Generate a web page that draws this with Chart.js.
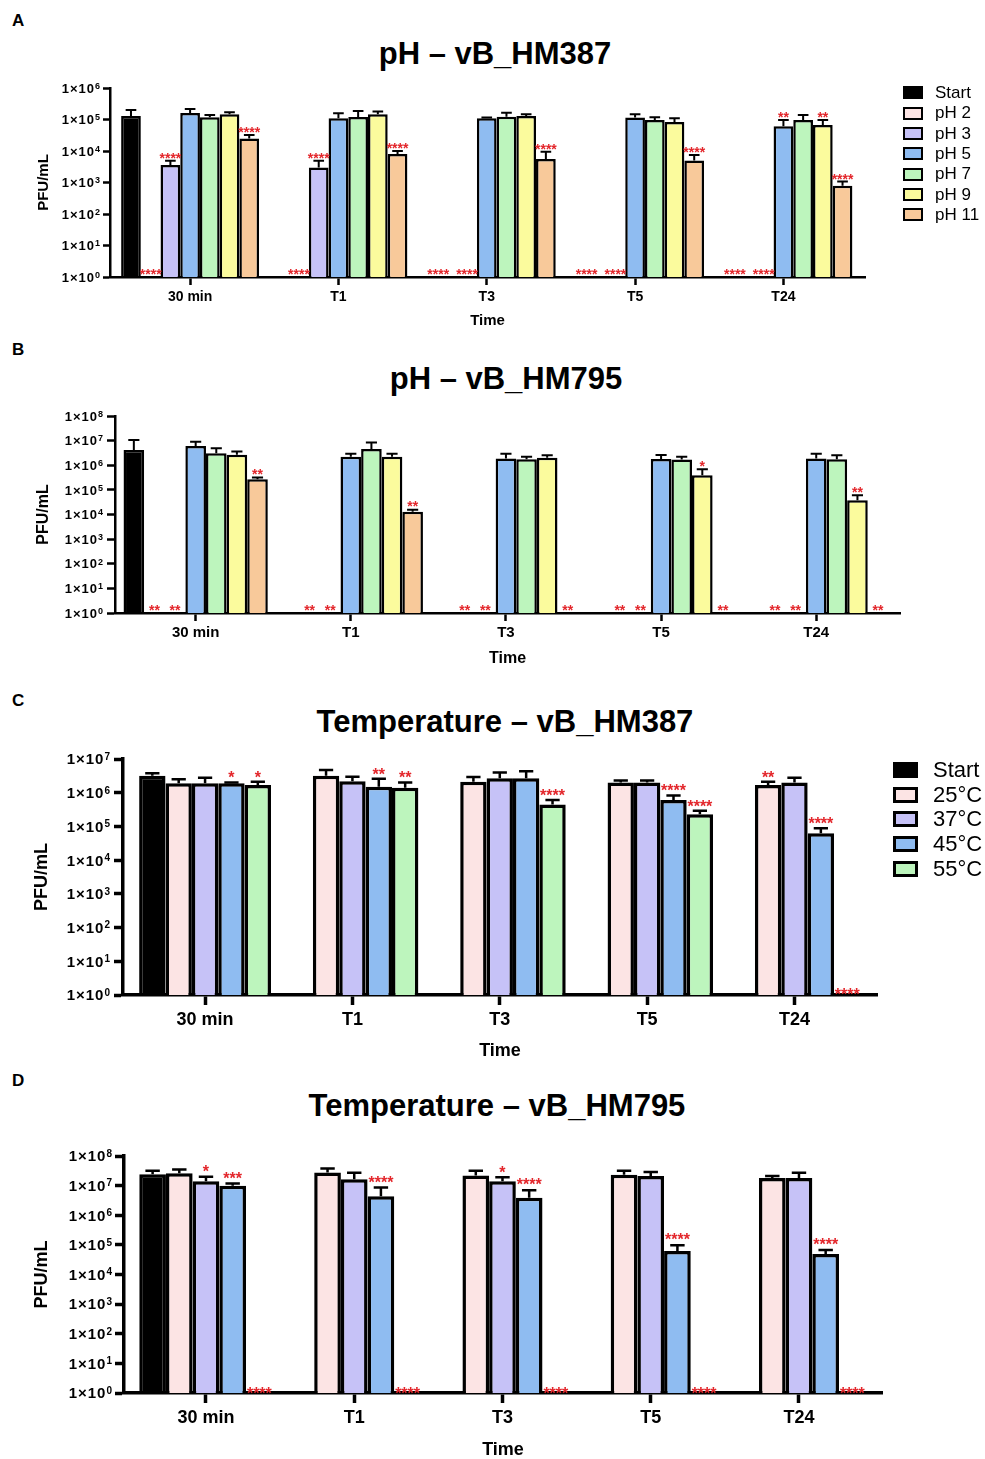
<!DOCTYPE html>
<html>
<head>
<meta charset="utf-8">
<title>Phage stability – pH and temperature</title>
<script src="https://cdn.jsdelivr.net/npm/chart.js@4.4.1/dist/chart.umd.min.js"></script>
<style>
  html, body { margin: 0; padding: 0; background: #fff; }
  body { position: relative; width: 985px; height: 1459px; overflow: hidden; font-family: 'Liberation Sans', Arial, sans-serif; color: #000; }
  canvas { position: absolute; left: 0; }
  .panel-letter { position: absolute; left: 12px; font-weight: bold; font-size: 17px; line-height: 17px; }
  .panel-title { position: absolute; width: 700px; text-align: center; font-weight: bold; font-size: 31px; line-height: 37px; white-space: nowrap; }
  .legend { position: absolute; }
  .legend-item { display: flex; align-items: center; white-space: nowrap; }
  .legend-box { box-sizing: border-box; display: inline-block; }
</style>
</head>
<body>
<div class="panel-letter" style="top:12px">A</div>
<div class="panel-letter" style="top:341px">B</div>
<div class="panel-letter" style="top:692px">C</div>
<div class="panel-letter" style="top:1072px">D</div>

<div class="panel-title" id="titleA"></div>
<div class="panel-title" id="titleB"></div>
<div class="panel-title" id="titleC"></div>
<div class="panel-title" id="titleD"></div>

<canvas id="chartA"></canvas>
<canvas id="chartB"></canvas>
<canvas id="chartC"></canvas>
<canvas id="chartD"></canvas>

<div class="legend" id="legendA"></div>
<div class="legend" id="legendC"></div>

<script>
/* Phage stability: pH and temperature, vB_HM387 and vB_HM795 */

const FONT = "'Liberation Sans', Arial, sans-serif";

// Categories and series
const timePoints = ['30 min', 'T1', 'T3', 'T5', 'T24'];
const phSeries = ['Start', 'pH 2', 'pH 3', 'pH 5', 'pH 7', 'pH 9', 'pH 11'];
const tempSeries = ['Start', '25°C', '37°C', '45°C', '55°C'];

// Y axis (PFU/mL, log scale)
const tickValues = [1, 1e1, 1e2, 1e3, 1e4, 1e5, 1e6, 1e7, 1e8];
const tickLabels = ['1×10⁰', '1×10¹', '1×10²', '1×10³', '1×10⁴', '1×10⁵', '1×10⁶', '1×10⁷', '1×10⁸'];

// Colours
const phColors = ['#000000', '#fce4e4', '#c6c2f7', '#8fbcf1', '#bdf5bd', '#fbfb9d', '#f8c99a'];
const tempColors = ['#000000', '#fce4e4', '#c6c2f7', '#8fbcf1', '#bdf5bd'];

// Panel A: pH – vB_HM387 (rows follow phSeries, columns follow timePoints)
const hm387PhMean = [
    [1.3e5, null, null, null, null],
    [null, null, null, null, null],
    [3.6e3, 3.0e3, null, null, null],
    [1.6e5, 1.1e5, 1.1e5, 1.15e5, 6.1e4],
    [1.17e5, 1.2e5, 1.23e5, 9.6e4, 9.6e4],
    [1.47e5, 1.47e5, 1.29e5, 8.3e4, 6.7e4],
    [2.5e4, 8.0e3, 5.6e3, 5.0e3, 7.9e2]
];
const hm387PhSd = [
    [7e4, null, null, null, null],
    [null, null, null, null, null],
    [1.3e3, 1.9e3, null, null, null],
    [5.5e4, 4.8e4, 5e3, 3.2e4, 3.5e4],
    [2.2e4, 6.6e4, 4.2e4, 2.1e4, 4.3e4],
    [2.3e4, 3.1e4, 1.8e4, 2.7e4, 2.9e4],
    [7e3, 2e3, 3.9e3, 2.4e3, 2.8e2]
];
const hm387PhStars = [
    ['', '', '', '', ''],
    ['****', '****', '****', '****', '****'],
    ['****', '****', '****', '****', '****'],
    ['', '', '', '', '**'],
    ['', '', '', '', ''],
    ['', '', '', '', '**'],
    ['****', '****', '****', '****', '****']
];

// Panel B: pH – vB_HM795
const hm795PhMean = [
    [4.2e6, null, null, null, null],
    [null, null, null, null, null],
    [null, null, null, null, null],
    [6.1e6, 2.2e6, 1.9e6, 1.8e6, 1.9e6],
    [3.1e6, 4.6e6, 1.75e6, 1.7e6, 1.75e6],
    [2.7e6, 2.2e6, 2.0e6, 3.9e5, 3.8e4],
    [2.7e5, 1.3e4, null, null, null]
];
const hm795PhSd = [
    [6.5e6, null, null, null, null],
    [null, null, null, null, null],
    [null, null, null, null, null],
    [3.0e6, 7e5, 1.0e6, 8e5, 1.0e6],
    [1.8e6, 3.7e6, 4.5e5, 5e5, 8e5],
    [9e5, 7e5, 5.5e5, 3e5, 2.3e4],
    [5e4, 2.5e3, null, null, null]
];
const hm795PhStars = [
    ['', '', '', '', ''],
    ['**', '**', '**', '**', '**'],
    ['**', '**', '**', '**', '**'],
    ['', '', '', '', ''],
    ['', '', '', '', ''],
    ['', '', '', '*', '**'],
    ['**', '**', '**', '**', '**']
];

// Panel C: Temperature – vB_HM387 (rows follow tempSeries)
const hm387TempMean = [
    [3.2e6, null, null, null, null],
    [1.9e6, 3.2e6, 2.1e6, 2.0e6, 1.7e6],
    [1.9e6, 2.2e6, 2.7e6, 2.0e6, 2.0e6],
    [1.9e6, 1.5e6, 2.7e6, 6.1e5, 6.3e4],
    [1.7e6, 1.4e6, 4.5e5, 2.3e5, null]
];
const hm387TempSd = [
    [6e5, null, null, null, null],
    [6e5, 1.5e6, 8e5, 3e5, 4e5],
    [9e5, 8e5, 1.3e6, 3e5, 8e5],
    [1e5, 1.1e6, 1.6e6, 2.1e5, 2.6e4],
    [4e5, 6e5, 1.6e5, 6e4, null]
];
const hm387TempStars = [
    ['', '', '', '', ''],
    ['', '', '', '', '**'],
    ['', '', '', '', ''],
    ['*', '**', '', '****', '****'],
    ['*', '**', '****', '****', '****']
];

// Panel D: Temperature – vB_HM795
const hm795TempMean = [
    [2.4e7, null, null, null, null],
    [2.6e7, 2.8e7, 2.2e7, 2.35e7, 1.82e7],
    [1.4e7, 1.65e7, 1.4e7, 2.1e7, 1.82e7],
    [1.0e7, 4.4e6, 3.9e6, 6.2e4, 4.9e4],
    [null, null, null, null, null]
];
const hm795TempSd = [
    [8e6, null, null, null, null],
    [9e6, 1.0e7, 1.0e7, 8.5e6, 2.8e6],
    [6e6, 1.05e7, 5e6, 8e6, 8.8e6],
    [1.8e6, 4.2e6, 3.1e6, 3.6e4, 1.8e4],
    [null, null, null, null, null]
];
const hm795TempStars = [
    ['', '', '', '', ''],
    ['', '', '', '', ''],
    ['*', '', '*', '', ''],
    ['***', '****', '****', '****', '****'],
    ['****', '****', '****', '****', '****']
];

Chart.defaults.font.family = FONT;
Chart.defaults.color = '#000';

const SUPERSCRIPTS = '⁰¹²³⁴⁵⁶⁷⁸⁹';

// Error bars (mean + SD, upper only) and significance stars
const errorBarsAndStars = {
    id: 'errorBarsAndStars',
    afterDatasetsDraw(chart, args, opts) {
        const ctx = chart.ctx;
        const yScale = chart.scales.y;
        const baseY = yScale.getPixelForValue(yScale.min);
        const labels = []; // per dataset, per time point

        ctx.save();
        ctx.font = `bold ${opts.starSize}px ${FONT}`;

        chart.data.datasets.forEach((ds, i) => {
            const meta = chart.getDatasetMeta(i);
            labels[i] = [];
            meta.data.forEach((bar, j) => {
                const mean = ds.data[j];
                let topY = baseY;

                if (mean !== null) {
                    topY = bar.y;
                    const sd = ds.sd[j];
                    if (sd) {
                        const capY = yScale.getPixelForValue(mean + sd);
                        const half = bar.width * 0.27;
                        ctx.strokeStyle = '#000';
                        ctx.lineWidth = opts.lineWidth;
                        ctx.beginPath();
                        ctx.moveTo(bar.x, topY);
                        ctx.lineTo(bar.x, capY);
                        ctx.moveTo(bar.x - half, capY);
                        ctx.lineTo(bar.x + half, capY);
                        ctx.stroke();
                        topY = capY;
                    }
                }

                const star = ds.stars[j];
                if (!star) return;
                labels[i][j] = {
                    text: star,
                    x: bar.x,
                    onBase: mean === null,
                    y: mean === null ? baseY - opts.baseGap : topY - opts.capGap,
                    w: ctx.measureText(star).width
                };
            });
        });

        // push neighbouring baseline labels apart so they do not run together
        timePoints.forEach((t, j) => {
            for (let i = labels.length - 2; i >= 0; i--) {
                const a = labels[i][j];
                const b = labels[i + 1][j];
                if (!a || !b || !a.onBase || !b.onBase) continue;
                const limit = b.x - b.w / 2 - opts.starGap;
                if (a.x + a.w / 2 > limit) a.x = limit - a.w / 2;
            }
        });

        ctx.fillStyle = '#e3262b';
        ctx.textAlign = 'center';
        ctx.textBaseline = 'alphabetic';
        labels.forEach(row => row.forEach(lb => {
            if (!lb) return;
            const m = ctx.measureText(lb.text);
            const glyphMid = (m.actualBoundingBoxAscent - m.actualBoundingBoxDescent) / 2;
            ctx.fillText(lb.text, lb.x, lb.y + glyphMid);
        }));
        ctx.restore();
    }
};

// Y tick labels as 1×10 with a raised, smaller exponent
const superscriptTicks = {
    id: 'superscriptTicks',
    afterDraw(chart, args, opts) {
        const ctx = chart.ctx;
        const s = chart.scales.y;
        const right = s.right - opts.tickLength - opts.padding;
        const cap = 0.716;

        ctx.save();
        ctx.fillStyle = '#000';
        ctx.textAlign = 'left';
        ctx.textBaseline = 'alphabetic';
        s.ticks.forEach((t, i) => {
            const label = tickLabels[i];
            let k = label.length;
            while (k > 0 && SUPERSCRIPTS.includes(label[k - 1])) k--;
            const base = label.slice(0, k);
            const exp = [...label.slice(k)].map(c => SUPERSCRIPTS.indexOf(c)).join('');

            ctx.font = `bold ${opts.supSize}px ${FONT}`;
            ctx.letterSpacing = '0px';
            const ew = ctx.measureText(exp).width;
            ctx.font = `bold ${opts.size}px ${FONT}`;
            ctx.letterSpacing = opts.spacing + 'px';
            const bw = ctx.measureText(base).width;

            const y = s.getPixelForValue(t.value);
            const baseLine = y + cap * opts.size / 2;
            ctx.fillText(base, right - ew - bw, baseLine);
            ctx.font = `bold ${opts.supSize}px ${FONT}`;
            ctx.letterSpacing = '0px';
            ctx.fillText(exp, right - ew, baseLine - cap * opts.size + cap * opts.supSize - 1);
        });
        ctx.restore();
    }
};

function makePanel(cfg) {
    const g = cfg.geo;
    const f = cfg.fonts;
    const canvas = document.getElementById(cfg.canvasId);
    canvas.width = 985;
    canvas.height = g.height;
    canvas.style.top = g.top + 'px';

    const title = document.getElementById(cfg.titleId);
    title.textContent = cfg.title;
    title.style.left = (g.titleX - 350) + 'px';
    title.style.top = (g.titleY - 18.5) + 'px';

    const axisLh = f.axisTitle * 1.2;
    const xTickLh = f.xTick * 1.2;
    const yVals = tickValues.filter(v => v <= cfg.yMax);

    return new Chart(canvas, {
        type: 'bar',
        data: {
            labels: timePoints.map((t, i) => i),
            datasets: cfg.series.map((name, k) => ({
                label: name,
                data: cfg.mean[k],
                sd: cfg.sd[k],
                stars: cfg.stars[k],
                backgroundColor: cfg.colors[k],
                borderColor: '#000',
                borderWidth: cfg.barBorder,
                categoryPercentage: cfg.categoryPercentage,
                barPercentage: 1
            }))
        },
        options: {
            responsive: false,
            animation: false,
            devicePixelRatio: 1,
            layout: {
                padding: { left: 0, top: g.area.t - g.top, right: 985 - g.area.r, bottom: 0 }
            },
            plugins: {
                legend: { display: false },
                tooltip: { enabled: false },
                errorBarsAndStars: {
                    lineWidth: cfg.errWidth,
                    starSize: f.star,
                    capGap: cfg.capGap,
                    baseGap: cfg.baseGap,
                    starGap: cfg.starGap
                },
                superscriptTicks: {
                    size: f.yTick,
                    supSize: f.yExp,
                    spacing: 1,
                    tickLength: g.yTickLen,
                    padding: g.yTickPad
                }
            },
            scales: {
                x: {
                    type: 'linear',
                    min: g.xMin,
                    max: g.xMax,
                    offset: false,
                    afterBuildTicks: (s) => { s.ticks = timePoints.map((t, i) => ({ value: i })); },
                    afterFit: (s) => { s.height = g.top + g.height - g.area.b; },
                    ticks: {
                        callback: (v, i) => timePoints[i],
                        font: { size: f.xTick, weight: 'bold' },
                        padding: g.xLabelY - g.area.b - g.xTickLen - xTickLh / 2,
                        maxRotation: 0,
                        autoSkip: false
                    },
                    grid: {
                        display: true, offset: false, drawOnChartArea: false, drawTicks: true,
                        tickLength: g.xTickLen, tickWidth: cfg.axisWidth, tickColor: '#000'
                    },
                    border: { display: true, color: '#000', width: cfg.axisWidth },
                    title: {
                        display: true,
                        text: 'Time',
                        font: { size: f.axisTitle, weight: 'bold', lineHeight: 1.2 },
                        padding: { top: 0, bottom: g.top + g.height - g.timeY - axisLh / 2 }
                    }
                },
                y: {
                    type: 'logarithmic',
                    min: 1,
                    max: cfg.yMax,
                    afterBuildTicks: (s) => { s.ticks = yVals.map(v => ({ value: v })); },
                    afterFit: (s) => { s.width = g.area.l; },
                    ticks: {
                        display: false,
                        callback: (v, i) => tickLabels[i],
                        autoSkip: false
                    },
                    grid: {
                        display: true, drawOnChartArea: false, drawTicks: true,
                        tickLength: g.yTickLen, tickWidth: cfg.axisWidth, tickColor: '#000'
                    },
                    border: { display: true, color: '#000', width: cfg.axisWidth },
                    title: {
                        display: true,
                        text: 'PFU/mL',
                        font: { size: f.axisTitle, weight: 'bold', lineHeight: 1.2 },
                        padding: { top: g.yTitleX - axisLh / 2, bottom: 0 }
                    }
                }
            }
        },
        plugins: [errorBarsAndStars, superscriptTicks]
    });
}

// HTML legend built from the chart's datasets
function makeLegend(id, chart, lg) {
    const el = document.getElementById(id);
    el.style.left = lg.x + 'px';
    el.style.top = lg.y + 'px';
    chart.data.datasets.forEach(ds => {
        const row = document.createElement('div');
        row.className = 'legend-item';
        row.style.height = lg.rowH + 'px';
        row.style.fontSize = lg.fontSize + 'px';
        const box = document.createElement('span');
        box.className = 'legend-box';
        box.style.width = lg.boxW + 'px';
        box.style.height = lg.boxH + 'px';
        box.style.background = ds.backgroundColor;
        box.style.border = `${lg.border}px solid ${ds.borderColor}`;
        box.style.marginRight = lg.gap + 'px';
        const text = document.createElement('span');
        text.textContent = ds.label;
        row.append(box, text);
        el.appendChild(row);
    });
}

const chartA = makePanel({
    canvasId: 'chartA', titleId: 'titleA', title: 'pH – vB_HM387',
    series: phSeries, colors: phColors,
    mean: hm387PhMean, sd: hm387PhSd, stars: hm387PhStars, yMax: 1e6,
    geo: { top: 0, height: 335, titleX: 495, titleY: 53,
           area: { l: 110, r: 865, t: 88, b: 277 },
           yTitleX: 44, xLabelY: 297, timeY: 321, xMin: -0.54, xMax: 4.55,
           xTickLen: 8, yTickLen: 7, yTickPad: 3 },
    fonts: { yTick: 13, yExp: 9, xTick: 14, axisTitle: 15, star: 14 },
    categoryPercentage: 0.93, barBorder: 2.5, axisWidth: 2.5, errWidth: 2,
    capGap: 4.7, baseGap: 5, starGap: 7
});

const chartB = makePanel({
    canvasId: 'chartB', titleId: 'titleB', title: 'pH – vB_HM795',
    series: phSeries, colors: phColors,
    mean: hm795PhMean, sd: hm795PhSd, stars: hm795PhStars, yMax: 1e8,
    geo: { top: 335, height: 345, titleX: 506, titleY: 378,
           area: { l: 115, r: 900, t: 416, b: 613 },
           yTitleX: 44, xLabelY: 633, timeY: 659, xMin: -0.52, xMax: 4.54,
           xTickLen: 8, yTickLen: 8, yTickPad: 4 },
    fonts: { yTick: 13, yExp: 9, xTick: 15, axisTitle: 16, star: 14 },
    categoryPercentage: 0.93, barBorder: 2.5, axisWidth: 2.5, errWidth: 2,
    capGap: 5.5, baseGap: 5, starGap: 3
});

const chartC = makePanel({
    canvasId: 'chartC', titleId: 'titleC', title: 'Temperature – vB_HM387',
    series: tempSeries, colors: tempColors,
    mean: hm387TempMean, sd: hm387TempSd, stars: hm387TempStars, yMax: 1e7,
    geo: { top: 680, height: 385, titleX: 505, titleY: 721,
           area: { l: 123, r: 877, t: 759, b: 995 },
           yTitleX: 42, xLabelY: 1020, timeY: 1051, xMin: -0.557, xMax: 4.56,
           xTickLen: 10, yTickLen: 9, yTickPad: 4 },
    fonts: { yTick: 15, yExp: 10, xTick: 18, axisTitle: 18, star: 16 },
    categoryPercentage: 0.895, barBorder: 3.5, axisWidth: 3.5, errWidth: 2.5,
    capGap: 7.7, baseGap: 3.3, starGap: 3
});

const chartD = makePanel({
    canvasId: 'chartD', titleId: 'titleD', title: 'Temperature – vB_HM795',
    series: tempSeries, colors: tempColors,
    mean: hm795TempMean, sd: hm795TempSd, stars: hm795TempStars, yMax: 1e8,
    geo: { top: 1065, height: 400, titleX: 497, titleY: 1105,
           area: { l: 124, r: 882, t: 1156, b: 1393 },
           yTitleX: 42, xLabelY: 1418, timeY: 1450, xMin: -0.553, xMax: 4.56,
           xTickLen: 10, yTickLen: 9, yTickPad: 3 },
    fonts: { yTick: 15, yExp: 10, xTick: 18, axisTitle: 18, star: 16 },
    categoryPercentage: 0.90, barBorder: 3.5, axisWidth: 3.5, errWidth: 2.5,
    capGap: 8.3, baseGap: 2.6, starGap: 3
});

makeLegend('legendA', chartA, { x: 903, y: 82.8, rowH: 20.33, boxW: 20, boxH: 13, border: 2.5, gap: 12, fontSize: 17 });
makeLegend('legendC', chartC, { x: 893, y: 757.6, rowH: 24.75, boxW: 25, boxH: 16, border: 3, gap: 15, fontSize: 22 });
</script>
</body>
</html>
